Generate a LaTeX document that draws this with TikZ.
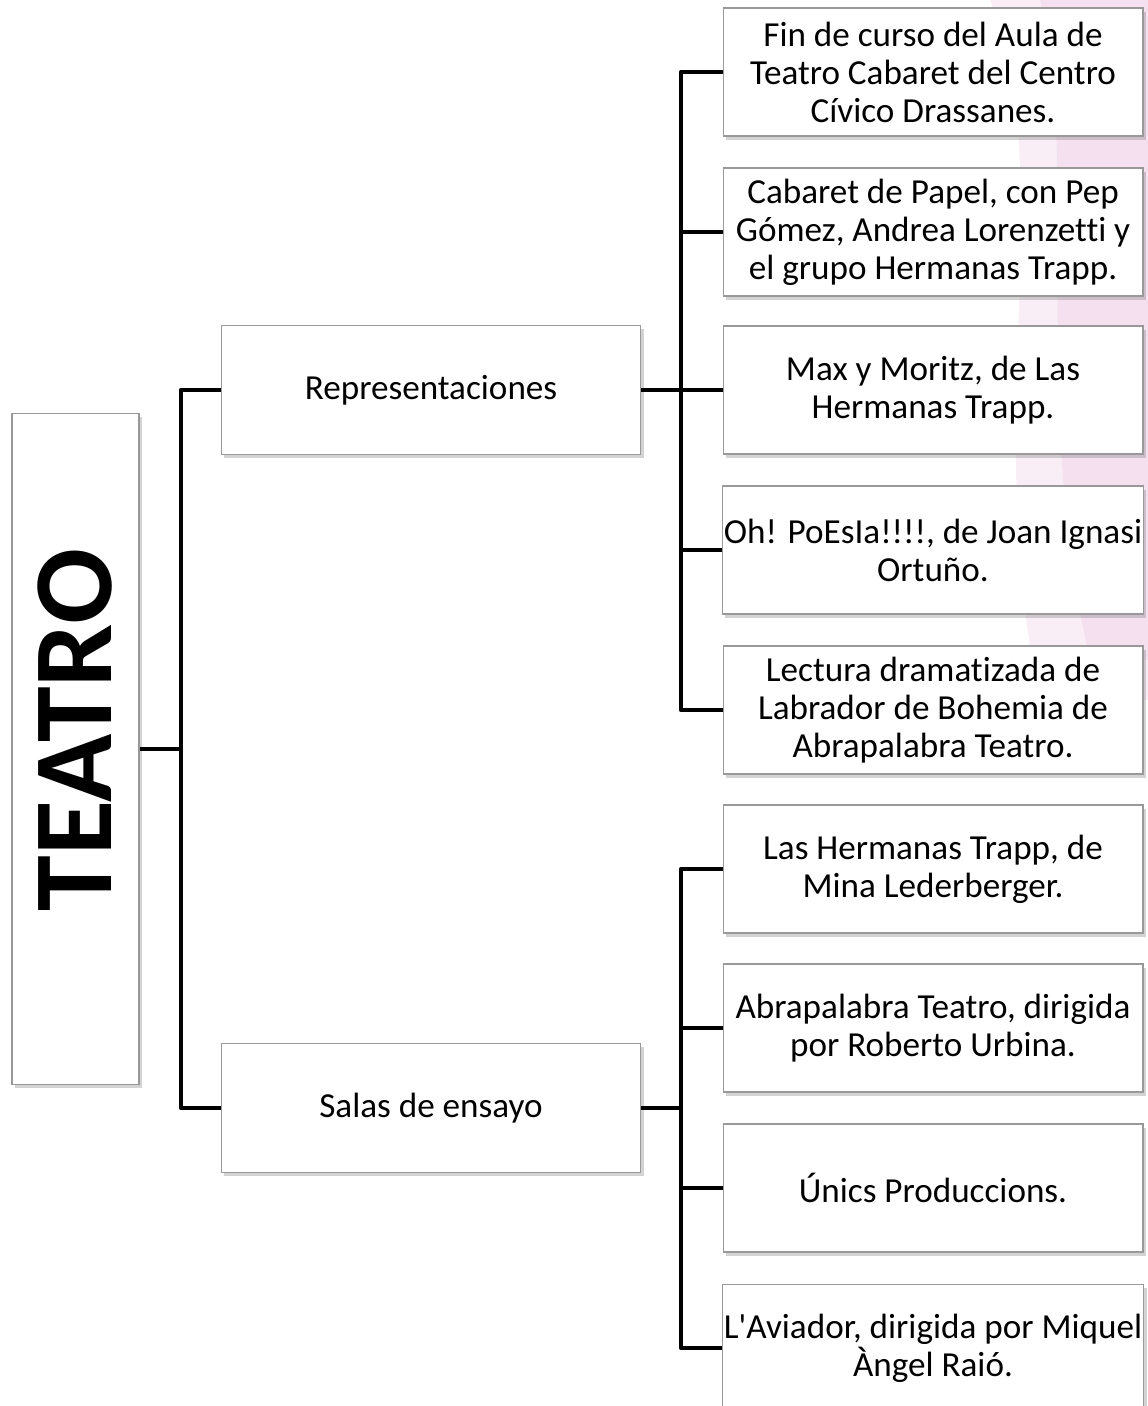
\documentclass[tikz,border=0pt]{standalone}
\usepackage{fontspec}
\setmainfont{Carlito}[Ligatures=CommonOff]
\usetikzlibrary{shadows}

\definecolor{petalpink}{RGB}{244,224,239}
\definecolor{petallight}{RGB}{249,238,246}

\begin{document}
\begin{tikzpicture}[
    x=0.02cm, y=-0.02cm,
    box/.style={rectangle, draw=black!40, fill=white, line width=0.6pt,
                inner xsep=1pt, align=center, text centered,
                font=\fontsize{20}{21.6}\selectfont,
                drop shadow={shadow xshift=1.5pt, shadow yshift=-2pt, opacity=0.35}},
    leaf/.style={box, minimum width=8.4cm, minimum height=2.56cm},
    branch/.style={box, minimum width=8.4cm, minimum height=2.58cm},
    link/.style={line width=2.4pt, line join=round}
]
\useasboundingbox (0,0) rectangle (1148,1406);

% Background petals
\fill[petallight] (990,0) .. controls (1060,180) and (980,420) .. (1040,700)
    -- (1148,700) -- (1148,0) -- cycle;
\fill[petalpink] (1040,0) .. controls (1080,160) and (1030,400) .. (1090,660)
    -- (1148,660) -- (1148,0) -- cycle;

% Root
\node[box, minimum width=2.54cm, minimum height=13.44cm] (teatro) at (75.5,749)
    {\rotatebox{90}{\hspace*{0.76cm}\fontsize{64}{64}\selectfont\bfseries TEATRO}};

% Second level
\node[branch] (rep) at (431,390) {Representaciones};
\node[branch] (salas) at (431,1108) {Salas de ensayo};

% Representaciones
\node[leaf] (rep1) at (933,72) {Fin de curso del Aula de\\Teatro Cabaret del Centro\\Cívico Drassanes.};
\node[leaf] (rep2) at (933,232) {Cabaret de Papel, con Pep\\Gómez, Andrea Lorenzetti y\\el grupo Hermanas Trapp.};
\node[leaf] (rep3) at (933,390) {Max y Moritz, de Las\\Hermanas Trapp.};
\node[leaf] (rep4) at (933,550) {Oh! PoEsIa!!!!, de Joan Ignasi\\Ortuño.};
\node[leaf] (rep5) at (933,710) {Lectura dramatizada de\\Labrador de Bohemia de\\Abrapalabra Teatro.};

% Salas de ensayo
\node[leaf] (sala1) at (933,869) {Las Hermanas Trapp, de\\Mina Lederberger.};
\node[leaf] (sala2) at (933,1028) {Abrapalabra Teatro, dirigida\\por Roberto Urbina.};
\node[leaf] (sala3) at (933,1188) {Únics Produccions.};
\node[leaf] (sala4) at (933,1348) {L\textquotesingle Aviador, dirigida por Miquel\\Àngel Raió.};

% Connectors
\coordinate (j0) at (181,749);
\coordinate (j1) at (681,390);
\coordinate (j2) at (681,1108);

\draw[link] (teatro.east) -- (j0);
\draw[link] (rep.west) -| (j0) |- (salas.west);

\draw[link] (rep.east) -- (j1);
\draw[link] (rep1.west) -| (j1) |- (rep5.west);
\foreach \i in {2,3,4} {
    \draw[link] (rep\i.west) -- (rep\i.west -| j1);
}

\draw[link] (salas.east) -- (j2);
\draw[link] (sala1.west) -| (j2) |- (sala4.west);
\foreach \i in {2,3} {
    \draw[link] (sala\i.west) -- (sala\i.west -| j2);
}

\end{tikzpicture}
\end{document}
